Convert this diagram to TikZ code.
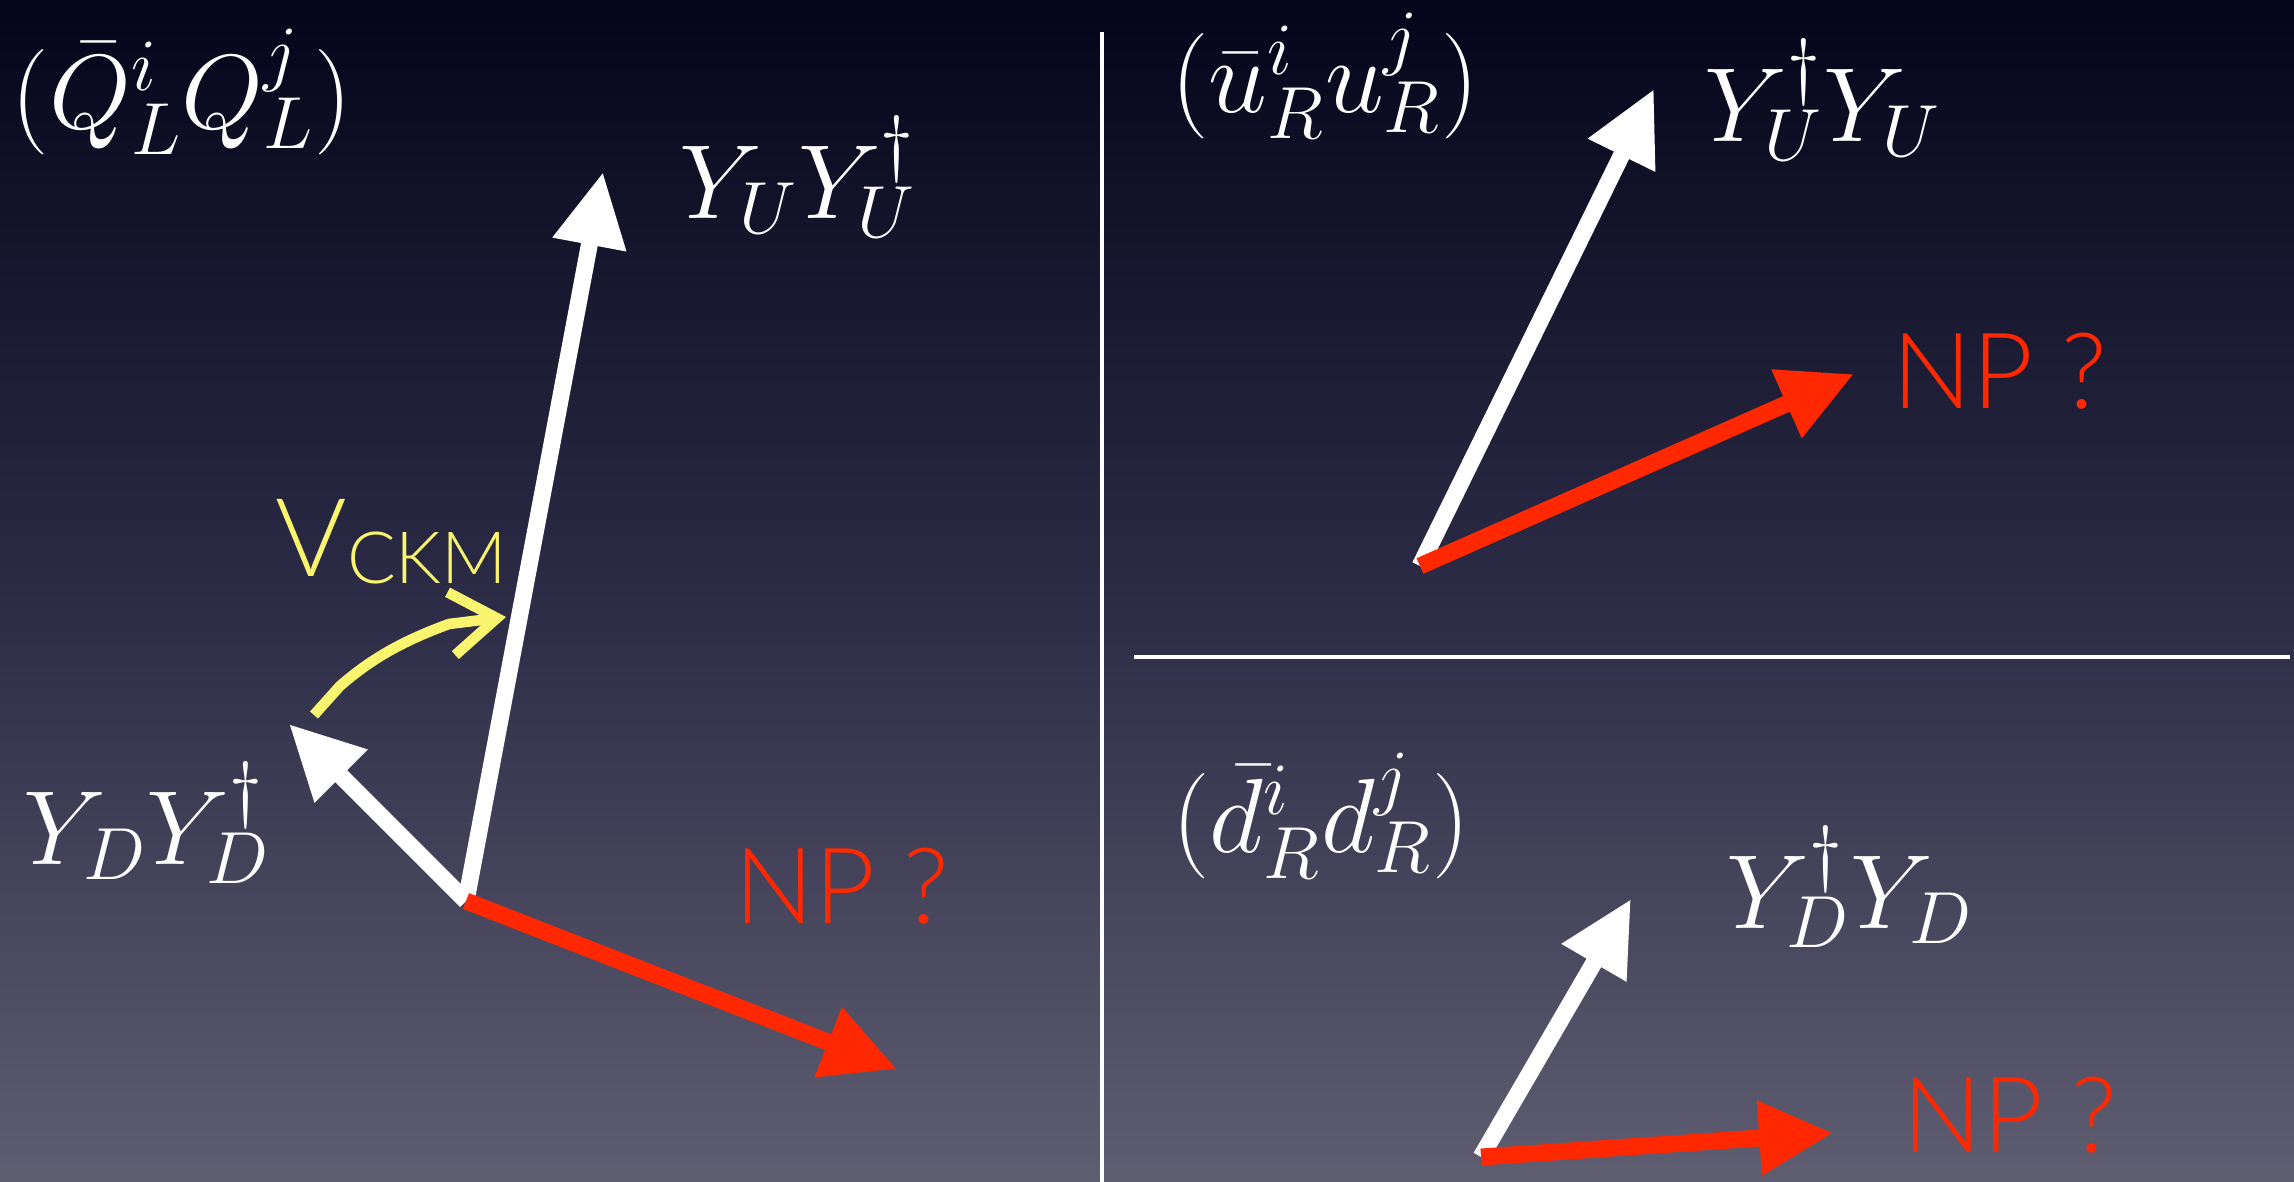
\documentclass[tikz,border=0pt]{standalone}
\usepackage{fix-cm}
\usepackage{fontspec}
\newfontfamily\gill{Lato Light}
\usetikzlibrary{arrows.meta}
\definecolor{npred}{RGB}{255,40,0}
\definecolor{ckmyel}{RGB}{250,245,110}
\definecolor{bgtop}{RGB}{4,5,26}
\definecolor{bgmid}{RGB}{44,43,70}
\definecolor{bgbot}{RGB}{95,93,112}
\begin{document}
\begin{tikzpicture}[x=0.01cm,y=0.01cm,
 vec/.style={line width=4.8pt, -{Triangle[length=21pt,width=20pt]}},
 wvec/.style={vec, white},
 rvec/.style={vec, npred},
 ckm/.style={ckmyel, line width=3pt, -{Straight Barb[length=13pt,width=18pt]}},
 mlab/.style={text=white, font=\fontsize{30}{36}\selectfont, inner sep=0pt},
 nplab/.style={text=npred, font=\gill\fontsize{30}{36}\selectfont, inner sep=0pt},
 sepline/.style={white, line width=1.2pt}]
\shade[top color=bgtop, bottom color=bgbot, middle color=bgmid] (0,0) rectangle (2294,1182);
\useasboundingbox (0,0) rectangle (2294,1182);
% separators
\coordinate (vt) at (1102,1150); \coordinate (vb) at (1102,0);
\coordinate (hl) at (1134,525); \coordinate (hr) at (2290,525);
\draw[sepline] (vt) -- (vb);
\draw[sepline] (hl) -- (hr);
% left panel
\coordinate (o1) at (466,281);
\coordinate (u1) at (603,1010);
\coordinate (d1) at (289,458);
\coordinate (n1) at (897,113);
\draw[wvec] (o1) -- (u1);
\draw[wvec] (o1) -- (d1);
\draw[rvec] (o1) -- (n1);
\coordinate (cs) at (314,467);
\coordinate (ce) at (506,565);
\draw[ckm] (cs) -- (340,496) .. controls (370,522) and (400,540) .. (449,558) -- (ce);
\node[mlab] (lq) at (182,1090) {$\bigl(\bar{Q}^i_L Q^j_L\bigr)$};
\node[mlab] (lyu) at (798,1005) {$Y_U Y_U^\dagger$};
\node[mlab] (lyd) at (147,359) {$Y_D Y_D^\dagger$};
\node[nplab] (np1) at (842,296) {NP ?};
\node[text=ckmyel, anchor=base west, inner sep=0pt, font=\gill] (vckm) at (275,605)
  {{\fontsize{31}{36}\selectfont V}\raisebox{-0.07cm}{\fontsize{20.5}{24}\selectfont CKM}};
% top right panel
\coordinate (o2) at (1420,616);
\coordinate (u2) at (1654,1093);
\coordinate (n2) at (1854,808);
\draw[wvec] (o2) -- (u2);
\draw[rvec] (o2) -- (n2);
\node[mlab] (lu) at (1325,1106) {$\bigl(\bar u^i_R u^j_R\bigr)$};
\node[mlab] (lyu2) at (1823,1082) {$Y_U^\dagger Y_U$};
\node[nplab] (np2) at (2000,811) {NP ?};
% bottom right panel
\coordinate (o3) at (1481,25);
\coordinate (u3) at (1631,283);
\coordinate (n3) at (1833,49);
\draw[wvec] (o3) -- (u3);
\draw[rvec] (o3) -- (n3);
\node[mlab] (ld) at (1321,366) {$\bigl(\bar d^i_R d^j_R\bigr)$};
\node[mlab] (lyd2) at (1850,295) {$Y_D^\dagger Y_D$};
\node[nplab] (np3) at (2010,67) {NP ?};
\end{tikzpicture}
\end{document}
